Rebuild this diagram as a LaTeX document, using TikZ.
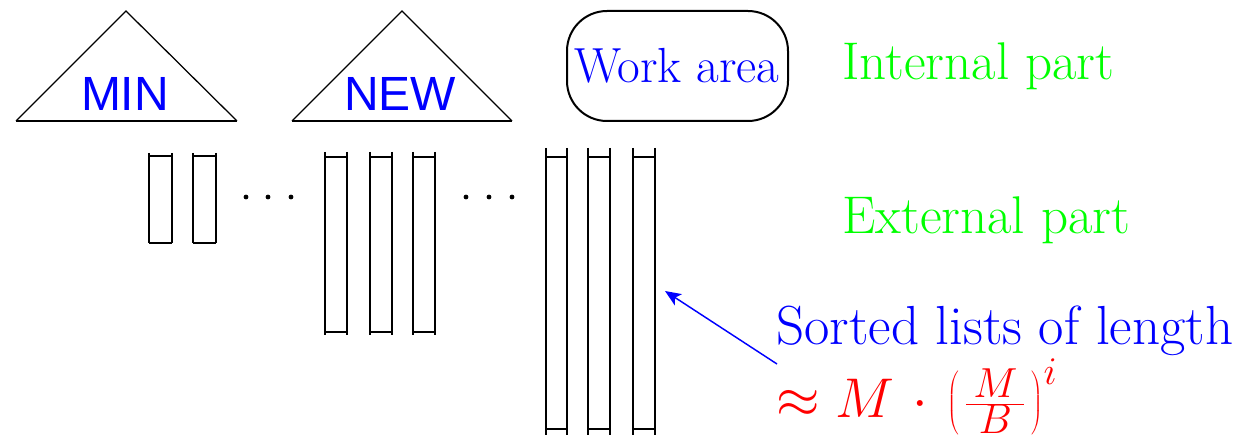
\RequirePackage{fix-cm}
\documentclass[tikz,border=0pt]{standalone}
\usepackage{graphicx}
\usepackage{fontspec}
\setsansfont{Liberation Sans}
\usetikzlibrary{arrows.meta}
\definecolor{pblue}{RGB}{0,0,255}
\definecolor{pgreen}{RGB}{0,255,0}
\definecolor{pred}{RGB}{255,0,0}
\newcommand\myparen[1]{\left#1\vcenter to 50pt{\vfil}\right.\kern-\nulldelimiterspace}
\newcommand\myfracMB{\raisebox{2pt}{\scalebox{0.75}{$\frac{\textstyle\mkern3mu M\mkern3mu}{\textstyle B}$}}}
\tikzset{
  treelabel/.style={text=pblue,font=\sffamily\fontsize{36}{40}\selectfont,inner sep=0pt,anchor=base},
  worklabel/.style={text=pblue,font=\rmfamily\fontsize{37}{42}\selectfont,inner sep=0pt,anchor=base},
  partlabel/.style={text=pgreen,font=\rmfamily\fontsize{39.8}{46}\selectfont,inner sep=0pt,anchor=base west},
  notelabel/.style={text=pblue,font=\rmfamily\fontsize{41.3}{48}\selectfont,inner sep=0pt,anchor=base west},
  formlabel/.style={text=pred,font=\rmfamily\fontsize{42}{48}\selectfont,inner sep=0pt,anchor=base west},
  treeline/.style={draw=black,line width=0.95pt,line join=miter},
  listline/.style={draw=black,line width=1.1pt},
  dotmark/.style={fill=black},
  pointer/.style={draw=pblue,line width=1.1pt,-{Stealth[length=12pt,width=10pt,inset=3pt]}}
}
\begin{document}
\begin{tikzpicture}[x=0.75pt,y=-0.75pt]
\useasboundingbox (0,0) rectangle (1240,435);
% triangles
\draw[treeline] (16,121) -- (126,11) -- (237,121);
\draw[draw=black,line width=1.8pt] (16,121) -- (237,121);
\draw[treeline] (292,121) -- (402,11) -- (512,121);
\draw[draw=black,line width=1.8pt] (292,121) -- (512,121);
\node[treelabel] (min) at (125,111) {MIN};
\node[treelabel] (new) at (400,111) {NEW};
% work area
\draw[draw=black,line width=1.5pt,rounded corners=30pt] (567,11) rectangle (788,121);
\node[worklabel] (work) at (677,83) {Work area};
% part labels
\node[partlabel] (internal) at (842,80) {Internal part};
\node[partlabel] (external) at (842,233) {External part};
% lists group 1
\foreach \xa/\xb in {149/172,193/216}{
  \draw[listline] (\xa,153) -- (\xa,243) (\xb,153) -- (\xb,243)
                  (\xa,156) -- (\xb,156) (\xa,243) -- (\xb,243);
}
% lists group 2
\foreach \xa/\xb in {325/347,370/392,413/435}{
  \draw[listline] (\xa,152) -- (\xa,335) (\xb,152) -- (\xb,335)
                  (\xa,157) -- (\xb,157) (\xa,332) -- (\xb,332);
}
% lists group 3
\foreach \xa/\xb in {546/567,588/610,633/655}{
  \draw[listline] (\xa,148) -- (\xa,436) (\xb,148) -- (\xb,436)
                  (\xa,157) -- (\xb,157) (\xa,429) -- (\xb,429);
}
% dots
\foreach \x in {246,268,291,466,489,512}{
  \fill[dotmark] (\x,197) circle (2.4);
}
% note
\node[notelabel] (sorted) at (776,344) {Sorted lists of length};
\node[formlabel] (formula) at (776,417) {$\approx M\mkern2mu\cdot\mkern2mu\mathopen{\myparen(}\mkern2mu\myfracMB\mkern2mu\mathclose{\myparen)}^{i}$};
\coordinate (tail) at (777,364);
\coordinate (tip) at (665,291);
\draw[pointer] (tail) -- (tip);
\end{tikzpicture}
\end{document}
